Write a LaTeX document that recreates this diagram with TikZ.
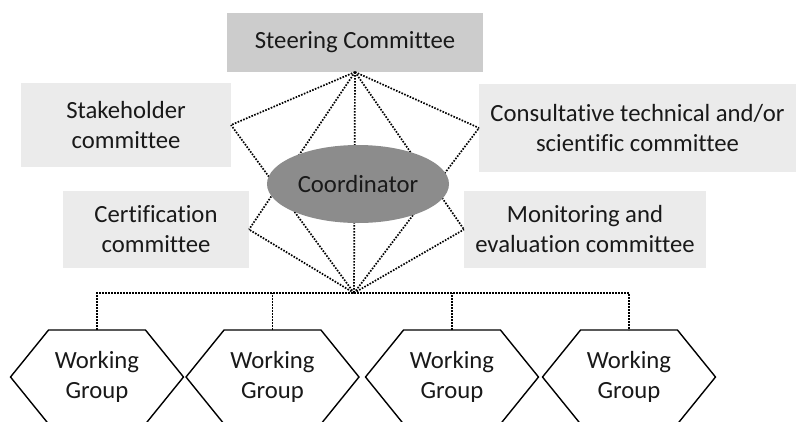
\documentclass[tikz,border=0pt]{standalone}
\usepackage{fontspec}
\setmainfont{Carlito}[Ligatures=NoCommon]
\usetikzlibrary{shapes.symbols,shapes.geometric}

\begin{document}
\begin{tikzpicture}[x=1pt,y=-1pt,
  every node/.style={font=\fontsize{24.7}{30}\selectfont,text=black!90,
    inner sep=0pt,outer sep=0pt,align=center},
  lightbox/.style={rectangle,fill=black!8},
  link/.style={line width=1.7pt,dash pattern=on 1.6pt off 1.4pt},
  wgroup/.style={signal,signal to=east and west,signal pointer angle=102,
    draw=black,line width=1.4pt,minimum width=173pt,minimum height=94pt}]
\useasboundingbox (0,0) rectangle (796,421);

% committees
\node[rectangle,fill=black!20,minimum width=256pt,minimum height=59pt] (steer) at (355,42.5) {Steering Committee};
\node[lightbox,minimum width=210pt,minimum height=84pt] (stake) at (126,125) {Stakeholder\\committee};
\node[lightbox,minimum width=186pt,minimum height=77pt] (cert) at (156,229.5) {Certification\\committee};
\node[lightbox,minimum width=317pt,minimum height=88pt] (consult) at (637.5,128) {Consultative technical and/or\\scientific committee};
\node[lightbox,minimum width=242pt,minimum height=77pt] (monit) at (585,229.5) {Monitoring and\\evaluation committee};

\coordinate (bot) at (354,293);

\foreach \t in {stake.east,cert.east,consult.west,monit.west,bot}
  \draw[link] (steer.south) -- (\t);
\foreach \t in {stake.east,cert.east,consult.west,monit.west}
  \draw[link] (bot) -- (\t);

\node[ellipse,fill=black!45,minimum width=182pt,minimum height=78pt] (coord) at (358,184) {Coordinator};

% working groups
\node[wgroup] (wg1) at (97,377) {Working\\Group};
\node[wgroup] (wg2) at (272.5,377) {Working\\Group};
\node[wgroup] (wg3) at (452,377) {Working\\Group};
\node[wgroup] (wg4) at (629,377) {Working\\Group};

\draw[link] (wg1.north) |- (bot) -| (wg4.north);
\draw[link] (wg2.north) -- (wg2.north |- bot);
\draw[link] (wg3.north) -- (wg3.north |- bot);
\end{tikzpicture}
\end{document}
